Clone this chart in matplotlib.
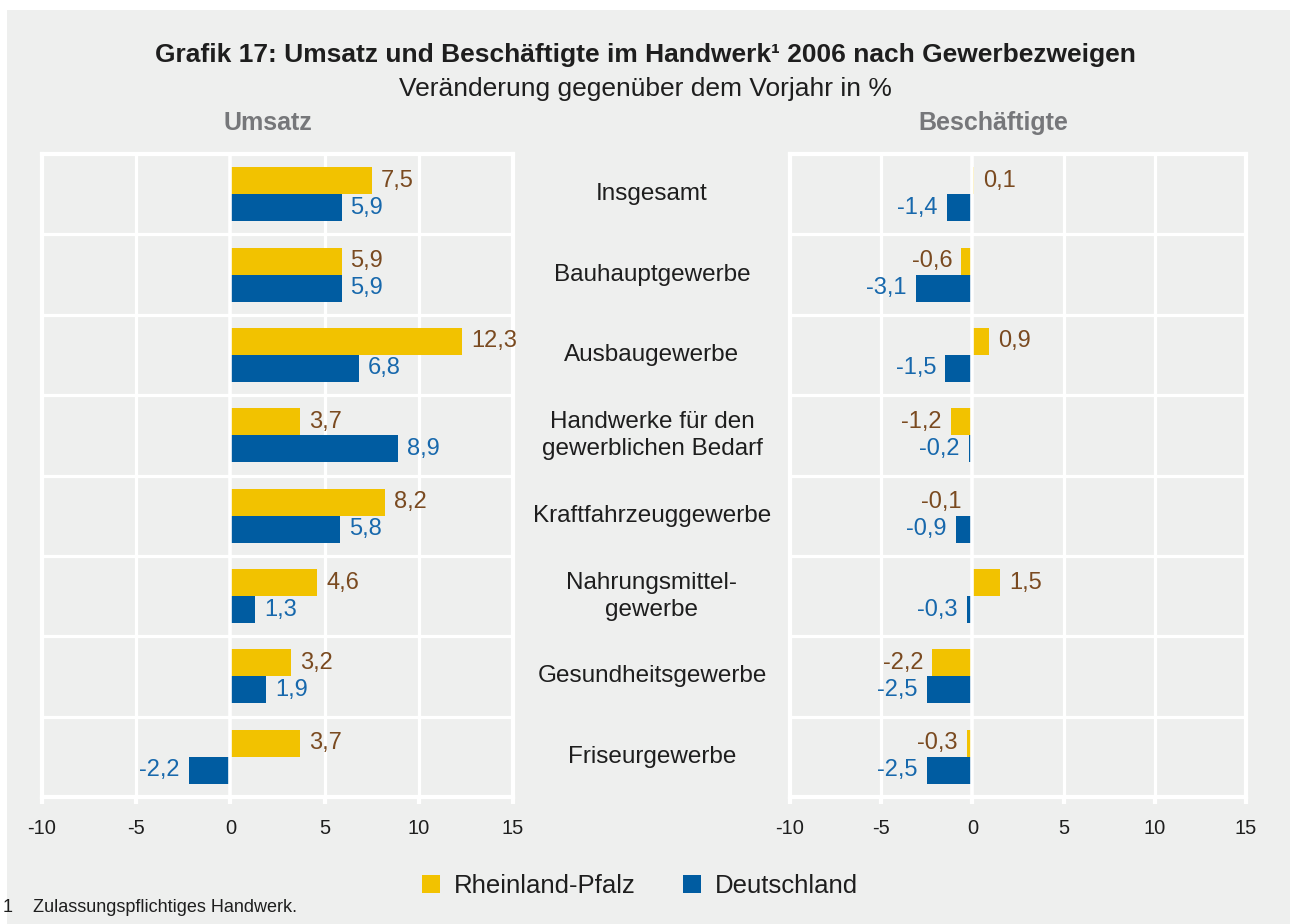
import matplotlib
matplotlib.use("Agg")
import matplotlib.pyplot as plt
from matplotlib.patches import Rectangle, Patch
from matplotlib.transforms import blended_transform_factory

plt.rcParams['font.family'] = ['Liberation Sans', 'DejaVu Sans']

# ---------------- data ----------------
categories = ["Insgesamt", "Bauhauptgewerbe", "Ausbaugewerbe",
              "Handwerke für den\ngewerblichen Bedarf", "Kraftfahrzeuggewerbe",
              "Nahrungsmittel-\ngewerbe", "Gesundheitsgewerbe", "Friseurgewerbe"]
umsatz_rp = [7.5, 5.9, 12.3, 3.7, 8.2, 4.6, 3.2, 3.7]
umsatz_de = [5.9, 5.9, 6.8, 8.9, 5.8, 1.3, 1.9, -2.2]
besch_rp = [0.1, -0.6, 0.9, -1.2, -0.1, 1.5, -2.2, -0.3]
besch_de = [-1.4, -3.1, -1.5, -0.2, -0.9, -0.3, -2.5, -2.5]
x_ticks = [-10, -5, 0, 5, 10, 15]
series_names = ["Rheinland-Pfalz", "Deutschland"]

# ---------------- style ----------------
W, H = 1290, 924
BG = "#EEEFEE"
YEL = "#F2C200"
BLU = "#005CA1"
LBL_YEL = "#7A4A20"
LBL_BLU = "#1768AC"
GRAYHEAD = "#76777A"
TXT = "#1E1E1E"

fig = plt.figure(figsize=(W / 100, H / 100), dpi=100, facecolor="white")
fig.patches.append(Rectangle((7 / W, 0), 1 - 7 / W, 1 - 10 / H,
                             transform=fig.transFigure, facecolor=BG,
                             edgecolor="none", zorder=-10))

top = 1 - 154 / H
bot = 1 - 797 / H
ax1 = fig.add_axes([42 / W, bot, (513 - 42) / W, top - bot])
ax2 = fig.add_axes([790 / W, bot, (1246 - 790) / W, top - bot])

n = len(categories)
ys = list(range(n))
bh = 0.335
off = 0.168


def fmt(v):
    return f"{v:.1f}".replace(".", ",")


def draw(ax, rp, de):
    ax.set_facecolor(BG)
    ax.set_xlim(x_ticks[0], x_ticks[-1])
    ax.set_ylim(n - 0.5, -0.5)
    for xv in x_ticks[1:-1]:
        if xv == 0:
            ax.axvline(xv, color="white", lw=2.6, zorder=2.5)
        else:
            ax.axvline(xv, color="white", lw=2.3, zorder=1)
    for i in range(n - 1):
        ax.axhline(i + 0.5, color="white", lw=2.3, zorder=1)
    ax.barh([y - off for y in ys], rp, height=bh, color=YEL, zorder=2)
    ax.barh([y + off for y in ys], de, height=bh, color=BLU, zorder=2)
    for y, v in zip(ys, rp):
        ax.annotate(fmt(v), (v, y - off), xytext=(6.5 if v >= 0 else -6.5, 0),
                    textcoords="offset points", ha="left" if v >= 0 else "right",
                    va="center", fontsize=17, color=LBL_YEL, zorder=3)
    for y, v in zip(ys, de):
        ax.annotate(fmt(v), (v, y + off), xytext=(6.5 if v >= 0 else -6.5, 0),
                    textcoords="offset points", ha="left" if v >= 0 else "right",
                    va="center", fontsize=17, color=LBL_BLU, zorder=3)
    for s in ax.spines.values():
        s.set_color("white")
        s.set_linewidth(3)
    ax.set_xticks(x_ticks)
    ax.set_xticklabels([str(t) for t in x_ticks])
    ax.tick_params(axis="x", direction="out", length=5, width=3, color="white",
                   labelsize=14.5, labelcolor=TXT, pad=11)
    ax.set_yticks([])


draw(ax1, umsatz_rp, umsatz_de)
draw(ax2, besch_rp, besch_de)

# category labels in the middle
tr = blended_transform_factory(fig.transFigure, ax1.transData)
for y, c in zip(ys, categories):
    fig.text(652 / W, y, c, transform=tr, ha="center", va="center",
             fontsize=17.5, color=TXT, linespacing=1.3)

# titles
fig.text(645 / W, 1 - 55 / H, "Grafik 17: Umsatz und Beschäftigte im Handwerk¹ 2006 nach Gewerbezweigen",
         ha="center", va="center", fontsize=19, fontweight="bold", color=TXT)
fig.text(645 / W, 1 - 89 / H, "Veränderung gegenüber dem Vorjahr in %",
         ha="center", va="center", fontsize=19, color=TXT)
fig.text(268 / W, 1 - 123 / H, "Umsatz", ha="center", va="center",
         fontsize=18, fontweight="bold", color=GRAYHEAD)
fig.text(993 / W, 1 - 123 / H, "Beschäftigte", ha="center", va="center",
         fontsize=18, fontweight="bold", color=GRAYHEAD)

# legend
handles = [Patch(facecolor=YEL, edgecolor="none"), Patch(facecolor=BLU, edgecolor="none")]
fig.legend(handles, series_names, loc="center", bbox_to_anchor=(640 / W, 1 - 886 / H),
           ncol=2, frameon=False, fontsize=18.5, handlelength=0.7, handleheight=0.7,
           handletextpad=0.55, columnspacing=1.85, borderpad=0, labelcolor=TXT)

# footnote
fig.text(3 / W, 1 - 908 / H, "1", ha="left", va="center", fontsize=13, color=TXT)
fig.text(33 / W, 1 - 908 / H, "Zulassungspflichtiges Handwerk.", ha="left", va="center",
         fontsize=13, color=TXT)

fig.savefig("out.png", dpi=100, facecolor=fig.get_facecolor())
